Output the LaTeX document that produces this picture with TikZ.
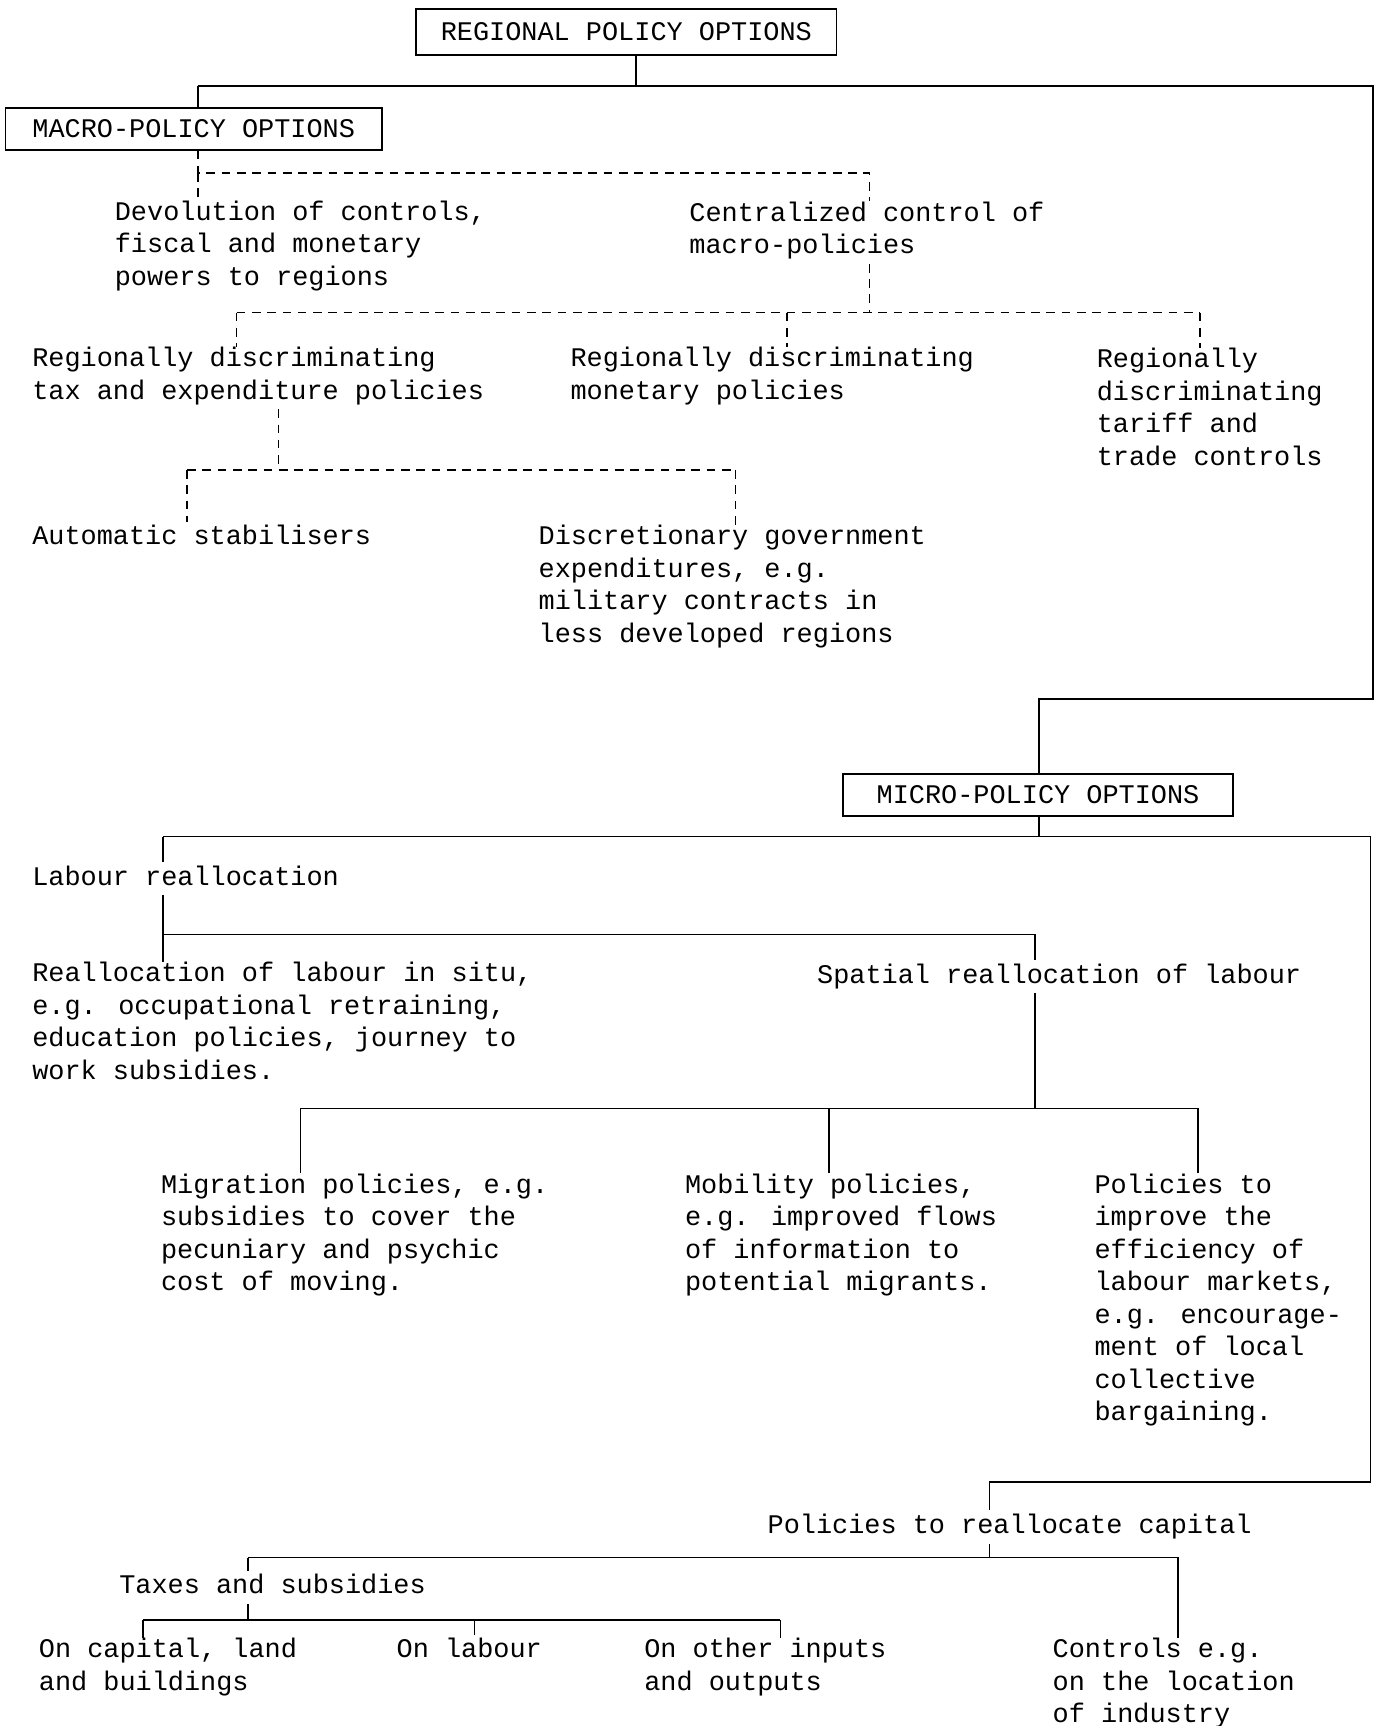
\documentclass[tikz,border=0pt]{standalone}
\usepackage{fontspec}
\newfontfamily\tw{Liberation Mono}
\newcommand\twf{\tw\fontsize{13.9pt}{16.8pt}\selectfont}
\begin{document}
\begin{tikzpicture}[x=0.02cm,y=-0.02cm,
  txt/.style={anchor=north west, inner sep=0pt, align=left, font=\twf, execute at begin node=\strut},
  bx/.style={draw, line width=0.9pt, inner sep=0pt, font=\twf},
  ln/.style={line width=0.9pt},
  dsh/.style={line width=0.75pt, dash pattern=on 4.5pt off 3.4pt}]
\useasboundingbox[fill=white] (0,0) rectangle (1250,1568);

% boxes
\node[bx, minimum width=7.64cm, minimum height=0.84cm] (top) at (569,29) {REGIONAL POLICY OPTIONS};
\node[bx, minimum width=6.84cm, minimum height=0.76cm] (macro) at (176,117) {MACRO-POLICY OPTIONS};
\node[bx, minimum width=7.08cm, minimum height=0.76cm] (micro) at (943,722) {MICRO-POLICY OPTIONS};

% text nodes
\node[txt] (devol) at (104,182) {Devolution of controls,\\fiscal and monetary\\powers to regions};
\node[txt] (central) at (626,183) {Centralized control of\\macro-policies};
\node[txt] (taxexp) at (29,315) {Regionally discriminating\\tax and expenditure policies};
\node[txt] (monet) at (518,315) {Regionally discriminating\\monetary policies};
\node[txt] (tariff) at (996,316) {Regionally\\discriminating\\tariff and\\trade controls};
\node[txt] (auto) at (29,474) {Automatic stabilisers};
\node[txt] (discr) at (489,477) {Discretionary government\\expenditures, e.g.\\military contracts in\\less developed regions};
\node[txt] (labour) at (29,783) {Labour reallocation};
\node[txt] (insitu) at (29,874) {Reallocation of labour in situ,\\e.g. occupational retraining,\\education policies, journey to\\work subsidies.};
\node[txt] (spatial) at (742,872) {Spatial reallocation of labour};
\node[txt] (migr) at (146,1066) {Migration policies, e.g.\\subsidies to cover the\\pecuniary and psychic\\cost of moving.};
\node[txt] (mob) at (622,1066) {Mobility policies,\\e.g. improved flows\\of information to\\potential migrants.};
\node[txt] (eff) at (994,1066) {Policies to\\improve the\\efficiency of\\labour markets,\\e.g. encourage-\\ment of local\\collective\\bargaining.};
\node[txt] (cap) at (697,1372) {Policies to reallocate capital};
\node[txt] (taxes) at (108,1427) {Taxes and subsidies};
\node[txt] (oncap) at (35,1488) {On capital, land\\and buildings};
\node[txt] (onlab) at (360,1485) {On labour};
\node[txt] (onoth) at (585,1488) {On other inputs\\and outputs};
\node[txt] (controls) at (956,1488) {Controls e.g.\\on the location\\of industry};

% junction coordinates
\coordinate (j0) at (578,78);
\coordinate (jL) at (180,78);
\coordinate (jR) at (1247,78);
\coordinate (jR2) at (1247,635);
\coordinate (jM) at (944,635);
\coordinate (k0) at (944,760);
\coordinate (kL) at (148,760);
\coordinate (kR) at (1245,760);
\coordinate (kR2) at (1245,1346);
\coordinate (kC) at (899,1346);
\coordinate (l1) at (148,849);
\coordinate (l2) at (940,849);
\coordinate (s1) at (940,1007);
\coordinate (sA) at (273,1007);
\coordinate (sB) at (753,1007);
\coordinate (sC) at (1088,1007);
\coordinate (c1) at (899,1415);
\coordinate (cL) at (225,1415);
\coordinate (cR) at (1070,1415);
\coordinate (t1) at (225,1472);
\coordinate (tA) at (130,1472);
\coordinate (tB) at (431,1472);
\coordinate (tC) at (709,1472);
\coordinate (d1) at (180,157);
\coordinate (d2) at (790,157);
\coordinate (e0) at (790,284);
\coordinate (eL) at (215,284);
\coordinate (eM) at (715,284);
\coordinate (eR) at (1090,284);
\coordinate (f0) at (253,427);
\coordinate (fL) at (170,427);
\coordinate (fR) at (668,427);

% solid connectors
\draw[ln] (top.south -| j0) -- (j0);
\draw[ln] (jL) -- (jR) -- (jR2) -- (jM) -- (micro.north -| jM);
\draw[ln] (jL) -- (macro.north -| jL);
\draw[ln] (micro.south -| k0) -- (k0);
\draw[ln] (kL) -- (kR) -- (kR2) -- (kC) -- (cap.north -| kC);
\draw[ln] (kL) -- (labour.north -| kL);
\draw[ln] (labour.south -| l1) -- (l1) -- (l2) -- (spatial.north -| l2);
\draw[ln] (l1) -- (insitu.north -| l1);
\draw[ln] (spatial.south -| s1) -- (s1);
\draw[ln] (sA) -- (sC);
\draw[ln] (sA) -- (migr.north -| sA);
\draw[ln] (sB) -- (mob.north -| sB);
\draw[ln] (sC) -- (eff.north -| sC);
\draw[ln] (cap.south -| c1) -- (c1);
\draw[ln] (cL) -- (cR) -- (controls.north -| cR);
\draw[ln] (cL) -- (taxes.north -| cL);
\draw[ln] (taxes.south -| t1) -- (t1);
\draw[ln] (tA) -- (tC);
\draw[ln] (tA) -- (oncap.north -| tA);
\draw[ln] (tB) -- (onlab.north -| tB);
\draw[ln] (tC) -- (onoth.north -| tC);

% dashed connectors
\draw[dsh] (macro.south -| d1) -- (d1) -- (d2) -- (central.north -| d2);
\draw[dsh] (d1) -- (devol.north -| d1);
\draw[dsh] (central.south -| e0) -- (e0);
\draw[dsh] (eL) -- (eR);
\draw[dsh] (eL) -- (taxexp.north -| eL);
\draw[dsh] (eM) -- (monet.north -| eM);
\draw[dsh] (eR) -- (tariff.north -| eR);
\draw[dsh] (taxexp.south -| f0) -- (f0);
\draw[dsh] (fL) -- (fR);
\draw[dsh] (fL) -- (auto.north -| fL);
\draw[dsh] (fR) -- (discr.north -| fR);
\end{tikzpicture}
\end{document}
